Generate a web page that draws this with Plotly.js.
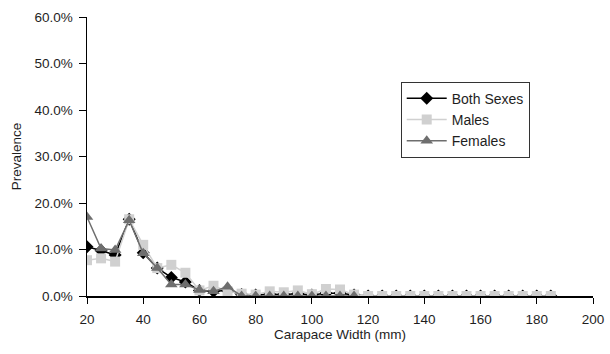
<!DOCTYPE html>
<html>
<head>
<meta charset="utf-8">
<script src="https://cdn.plot.ly/plotly-3.0.1.min.js"></script>
<style>html,body{margin:0;padding:0;background:#fff;}#chart{width:610px;height:354px;}</style>
</head>
<body>
<div id="chart"></div>
<script>
const widths = [20,25,30,35,40,45,50,55,60,65,70,75,80,85,90,95,100,105,110,115,120,125,130,135,140,145,150,155,160,165,170,175,180,185];
const femaleWidths = [20,25,30,35,40,45,50,55,60,65,70,75,80,85,90,95,100,105,110,115];
const bothSexes = [0.106,0.098,0.088,0.165,0.093,0.060,0.040,0.030,0.012,0.010,0.012,0.003,0.002,0.004,0.003,0.005,0.002,0.006,0.006,0.002,0,0,0,0,0,0,0,0,0,0,0,0,0,0];
const males = [0.077,0.081,0.074,0.165,0.110,0.060,0.067,0.050,0.012,0.022,0.010,0.005,0.003,0.010,0.008,0.012,0.004,0.015,0.014,0.003,0,0,0,0,0,0,0,0,0,0,0,0,0,0];
const females = [0.170,0.102,0.099,0.163,0.092,0.060,0.025,0.025,0.013,0.010,0.020,0,0,0,0,0,0,0,0,0];
const xTicks = [20,40,60,80,100,120,140,160,180,200];

const font = {family: 'Liberation Sans, Arial, sans-serif', size: 13.5, color: '#1e1e1e'};
const data = [
  {x: widths, y: bothSexes, name: 'Both Sexes', mode: 'lines+markers',
   line: {color: '#000', width: 1.5}, marker: {symbol: 'diamond', size: 10, color: '#000'}},
  {x: widths, y: males, name: 'Males', mode: 'lines+markers',
   line: {color: '#d0d0d0', width: 1.5}, marker: {symbol: 'square', size: 10, color: '#d0d0d0'}},
  {x: femaleWidths, y: females, name: 'Females', mode: 'lines+markers',
   line: {color: '#6e6e6e', width: 1.5}, marker: {symbol: 'triangle-up', size: 11, color: '#6e6e6e'}}
];
const layout = {
  width: 610, height: 354,
  margin: {l: 87, r: 17, t: 17, b: 58},
  paper_bgcolor: '#fff', plot_bgcolor: '#fff',
  font: font,
  showlegend: true,
  legend: {x: 0.62, y: 0.768, xanchor: 'left', yanchor: 'top', bordercolor: '#333', borderwidth: 1,
           bgcolor: '#fff', font: {family: font.family, size: 14, color: '#1e1e1e'}, tracegroupgap: 0, itemwidth: 40},
  xaxis: {range: [20, 200], tickvals: xTicks, ticks: 'outside', ticklen: 6, tickcolor: '#000',
          ticklabelstandoff: 4,
          showline: true, linecolor: '#000', linewidth: 1.5, showgrid: false, zeroline: false,
          title: {text: 'Carapace Width (mm)', font: {family: font.family, size: 13.5, color: '#1e1e1e'}, standoff: 4},
          tickfont: font},
  yaxis: {range: [0, 0.6], dtick: 0.1, tickformat: '.1%', ticks: 'outside', ticklen: 7, tickcolor: '#000',
          ticklabelstandoff: 3,
          showline: true, linecolor: '#000', linewidth: 1.5, showgrid: false, zeroline: false,
          title: {text: 'Prevalence', font: {family: font.family, size: 13.5, color: '#1e1e1e'}, standoff: 10},
          tickfont: font}
};
Plotly.newPlot('chart', data, layout, {displayModeBar: false, staticPlot: true});
</script>
</body>
</html>
